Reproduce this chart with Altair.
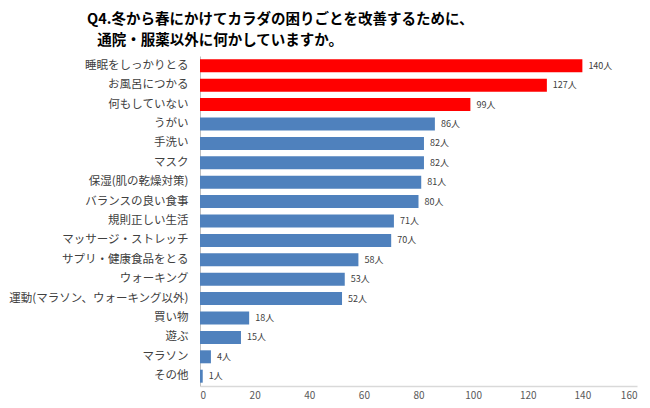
import altair as alt
import pandas as pd

categories = [
    "睡眠をしっかりとる", "お風呂につかる", "何もしていない", "うがい", "手洗い", "マスク",
    "保湿(肌の乾燥対策)", "バランスの良い食事", "規則正しい生活", "マッサージ・ストレッチ",
    "サプリ・健康食品をとる", "ウォーキング", "運動(マラソン、ウォーキング以外)",
    "買い物", "遊ぶ", "マラソン", "その他",
]
values = [140, 127, 99, 86, 82, 82, 81, 80, 71, 70, 58, 53, 52, 18, 15, 4, 1]
groups = ["top"] * 3 + ["other"] * 14

df = pd.DataFrame({"item": categories, "count": values, "group": groups})
df["label"] = df["count"].astype(str) + "人"

FONT = "Noto Sans CJK JP"

y = alt.Y("item:N", sort=categories, title=None,
          scale=alt.Scale(paddingInner=0.33, paddingOuter=0.17),
          axis=alt.Axis(labelFontSize=11.5, labelColor="#404040", labelFont=FONT,
                        labelPadding=12, labelLimit=400, ticks=False,
                        domainColor="#bfbfbf", domainWidth=1))
x = alt.X("count:Q", title=None,
          scale=alt.Scale(domain=[0, 160], nice=False),
          axis=alt.Axis(values=list(range(0, 161, 20)), grid=False, ticks=False,
                        labelFontSize=10, labelColor="#595959", labelFont=FONT,
                        labelPadding=4, domainColor="#d9d9d9", domainWidth=1.5))

bars = alt.Chart(df).mark_bar().encode(
    y=y, x=x,
    color=alt.Color("group:N", scale=alt.Scale(domain=["top", "other"],
                                               range=["#ff0000", "#4f81bd"]),
                    legend=None),
)
texts = alt.Chart(df).mark_text(align="left", baseline="middle", dx=6,
                                fontSize=9, color="#404040", font=FONT).encode(
    y=alt.Y("item:N", sort=categories), x="count:Q", text="label:N")

chart = alt.layer(bars, texts).properties(
    width=437, height=330,
    autosize=alt.AutoSizeParams(type="none"),
    padding={"left": 192, "top": 48, "right": 5, "bottom": 14},
    title=alt.TitleParams(
        text=["Q4.冬から春にかけてカラダの困りごとを改善するために、",
              "\u2060\u2002\u2009通院・服薬以外に何かしていますか。"],
        anchor="start", frame="group", dx=-113, offset=8, fontSize=14.5, lineHeight=21,
        font=FONT, fontWeight="bold", color="#000000"),
).configure_view(stroke=None)

chart.save("out.html", embed_options={"renderer": "svg", "actions": False})
